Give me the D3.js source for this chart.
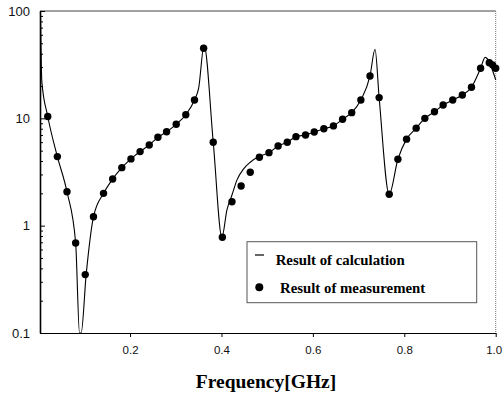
<!DOCTYPE html>
<html><head><meta charset="utf-8">
<script src="https://cdn.jsdelivr.net/npm/d3@7/dist/d3.min.js"></script>
<style>body{margin:0;background:#fff}svg{display:block}</style>
</head><body>
<script>
// Measurement points (frequency in GHz, value)
const measFreq = [0.020,0.041,0.062,0.081,0.102,0.120,0.142,0.162,0.182,0.202,0.222,0.242,0.261,0.280,0.301,0.322,0.341,0.361,
  0.382,0.402,0.423,0.443,0.463,0.483,0.504,0.524,0.544,0.563,0.584,0.603,0.624,0.645,0.665,0.685,0.705,0.725,0.745,
  0.767,0.786,0.805,0.826,0.845,0.866,0.885,0.906,0.927,0.947,0.967,0.986,0.993,1.000];
const measValue = [10.4,4.4,2.07,0.69,0.35,1.21,2.0,2.72,3.47,4.19,4.9,5.65,6.67,7.5,8.8,10.8,14.8,45,
  5.98,0.78,1.67,2.34,3.15,4.34,4.79,5.53,5.98,6.75,7.0,7.46,8.0,8.5,9.8,11.3,14.8,24.8,15.6,
  1.96,4.16,6.4,8.1,10.0,11.5,13.3,14.8,16.5,19.5,29.3,33,31.5,29.3];
// Calculated curve
const calcFreq = [0.004,0.007,0.020,0.041,0.062,0.081,0.0895,0.093,0.104,0.120,0.142,0.162,0.182,0.202,0.222,0.242,0.261,0.280,0.301,0.322,0.341,0.350,0.362,
  0.382,0.401,0.412,0.423,0.434,0.448,0.463,0.482,0.504,0.524,0.544,0.563,0.584,0.603,0.624,0.645,0.665,0.685,0.705,0.725,0.736,0.745,
  0.767,0.786,0.805,0.826,0.845,0.866,0.885,0.906,0.927,0.947,0.967,0.977,1.000];
const calcValue = [100,22,10.4,4.4,2.07,0.69,0.1,0.1,0.35,1.21,2.0,2.72,3.47,4.19,4.9,5.65,6.67,7.5,8.8,10.8,14.8,19,48,
  6.0,0.78,1.4,1.93,2.67,3.36,3.9,4.4,4.79,5.53,5.98,6.75,7.0,7.46,8.0,8.5,9.8,11.3,14.8,24.8,44,15.6,
  1.96,4.16,6.4,8.1,10.0,11.5,13.3,14.8,16.5,19.5,29.3,37,22.8];
const xTicks = [0.2,0.4,0.6,0.8,1.0];
const yTicks = [0.1,1,10,100];
const xTitle = "Frequency[GHz]";
const legendLabels = ["Result of calculation","Result of measurement"];

const W = 503, H = 398;
const L = 40, R = 495.7, T = 11, B = 333;
const svg = d3.select("body").append("svg").attr("width",W).attr("height",H);

const x = d3.scaleLinear().domain([0.003,1.0]).range([L,R]);
const y = d3.scaleLog().domain([0.1,100]).range([B,T]);

// frame top and right
svg.append("line").attr("x1",L).attr("x2",R).attr("y1",T).attr("y2",T).attr("stroke","#444").attr("stroke-width",1);
svg.append("line").attr("x1",R).attr("x2",R).attr("y1",T).attr("y2",B).attr("stroke","#777").attr("stroke-width",1).attr("stroke-dasharray","1,1");

// x axis
const xAxis = d3.axisBottom(x).tickValues(xTicks).tickFormat(d3.format(".1f")).tickSizeInner(4).tickSizeOuter(0).tickPadding(9);
const gx = svg.append("g").attr("transform",`translate(0,${B})`).call(xAxis);
gx.select(".domain").attr("stroke","#000").attr("stroke-width",1.2);
gx.selectAll("text").attr("font-family","Liberation Sans, Arial, sans-serif").attr("font-size",11.5).attr("fill","#111")
  .attr("dx",(d,i,n)=> i===n.length-1 ? -2 : 0);

// y axis
const yAxis = d3.axisLeft(y).tickValues(yTicks).tickFormat(d=>String(d)).tickSizeInner(-5).tickSizeOuter(0).tickPadding(10);
const gy = svg.append("g").attr("transform",`translate(${L},0)`).call(yAxis);
gy.select(".domain").attr("stroke","#000").attr("stroke-width",1.6);
gy.selectAll("text").attr("font-family","Liberation Sans, Arial, sans-serif").attr("font-size",13).attr("fill","#111");
const minor = [];
[0.1,1,10].forEach(d=>{for(let k=2;k<=9;k++) minor.push(d*k);});
const gym = svg.append("g").attr("transform",`translate(${L},0)`).call(d3.axisLeft(y).tickValues(minor).tickFormat("").tickSizeInner(-3).tickSizeOuter(0));
gym.select(".domain").remove();

// calculated line
const calc = calcFreq.map((f,i)=>[f,calcValue[i]]);
svg.append("path").datum(calc)
  .attr("d", d3.line().x(d=>x(d[0])).y(d=>y(d[1])).curve(d3.curveMonotoneX))
  .attr("fill","none").attr("stroke","#000").attr("stroke-width",1.1);

// measurement points
svg.append("g").selectAll("circle").data(measFreq.map((f,i)=>[f,measValue[i]])).join("circle")
  .attr("cx",d=>x(d[0])).attr("cy",d=>y(d[1])).attr("r",3.7).attr("fill","#000");

// x title
svg.append("text").attr("x",266).attr("y",388).attr("text-anchor","middle")
  .attr("font-family","Liberation Serif, Times New Roman, serif").attr("font-weight","bold").attr("font-size",19.5).text(xTitle);

// legend
const lg = svg.append("g");
lg.append("rect").attr("x",247).attr("y",241.7).attr("width",229.7).attr("height",61).attr("fill","#fff").attr("stroke","#555").attr("stroke-width",1);
lg.append("line").attr("x1",255).attr("x2",264).attr("y1",255).attr("y2",255).attr("stroke","#000").attr("stroke-width",1.2);
lg.append("circle").attr("cx",259.3).attr("cy",287.3).attr("r",4).attr("fill","#000");
lg.append("text").attr("x",275.7).attr("y",265.3).text(legendLabels[0])
  .attr("font-family","Liberation Serif, Times New Roman, serif").attr("font-weight","bold").attr("font-size",14.8);
lg.append("text").attr("x",280).attr("y",293.3).text(legendLabels[1])
  .attr("font-family","Liberation Serif, Times New Roman, serif").attr("font-weight","bold").attr("font-size",14.8);
</script>
</body></html>
